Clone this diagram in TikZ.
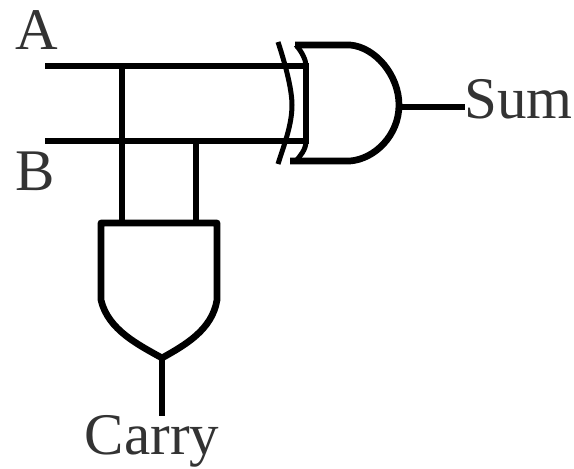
\documentclass[tikz,border=0pt]{standalone}
\usepackage{fontspec}
\setmainfont{Liberation Serif}
\tikzset{
  wire/.style={line width=6.7pt,black,line cap=butt,line join=miter},
  gate/.style={line width=6.7pt,black,line join=round},
  thin gate/.style={line width=5pt,black,line join=round},
  lbl/.style={inner sep=0pt,text=black!80,font=\fontsize{59}{62}\selectfont}
}
\begin{document}
\begin{tikzpicture}[x=1pt,y=-1pt]
\useasboundingbox (0,0) rectangle (574,469);
% terminals
\coordinate (inA) at (45,66);
\coordinate (inB) at (45,141);
\coordinate (xorA) at (309,66);
\coordinate (xorB) at (309,141);
\coordinate (jA) at (122,66);
\coordinate (jB) at (196,141);
\coordinate (andA) at (122,223);
\coordinate (andB) at (196,223);
\coordinate (xorOut) at (400,107);
\coordinate (andOut) at (162,357);
% labels
\node[lbl] (A) at (37,30) {A};
\node[lbl] (B) at (35,171) {B};
\node[lbl,anchor=west] (Sum) at (464,99) {Sum};
\node[lbl] (Carry) at (152,441) {Carry};
\coordinate (sumEnd) at (465,107);
\coordinate (carryEnd) at (162,416);
% XOR gate
\draw[thin gate] (278,42) .. controls (284,60) and (292,88) .. (292,105) .. controls (292,125) and (284,145) .. (278,164);
\draw[gate] (295,45) -- (350,45) .. controls (375,47) and (399,75) .. (399,105) .. controls (399,135) and (375,159) .. (350,161) -- (290,161);
\draw[thin gate] (296,45) .. controls (302,52) and (306,60) .. (306,66);
\draw[gate] (306,66) -- (306,141);
\draw[thin gate] (306,141) .. controls (306,150) and (300,156) .. (296,161);
% AND gate
\draw[gate] (101,223) -- (217,223) -- (217,300) .. controls (212,330) and (185,345) .. (162,358) .. controls (139,345) and (108,330) .. (101,300) -- cycle;
% wires
\draw[wire] (inA) -- (xorA);
\draw[wire] (inB) -- (xorB);
\draw[wire] (jA) -- (andA);
\draw[wire] (jB) -- (andB);
\draw[wire] (xorOut) -- (sumEnd);
\draw[wire] (andOut) -- (carryEnd);
\end{tikzpicture}
\end{document}
